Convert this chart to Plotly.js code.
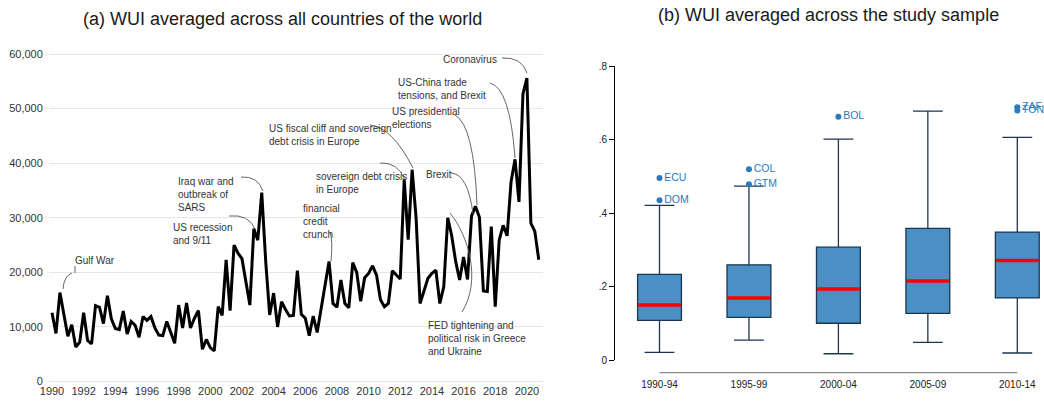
<!DOCTYPE html>
<html><head><meta charset="utf-8">
<script src="https://cdn.plot.ly/plotly-3.0.1.min.js"></script>
<style>html,body{margin:0;padding:0;background:#fff}#chart{width:1044px;height:401px}</style>
</head><body><div id="chart"></div>
<script>
const W = 1044, H = 401;

// ---- (a) World Uncertainty Index, quarterly 1990Q1 - 2020Q4 ----
const wui1990s = [12600, 8800, 16300, 11900, 8300, 10400, 6300, 7200, 12600, 7500, 6900, 13900,
  13600, 10600, 15700, 11500, 9700, 9500, 12900, 8700, 11000, 10300, 8100, 11900,
  11200, 11900, 9800, 8500, 8400, 11000, 8800, 7000, 14000, 9800, 14400, 9800,
  11600, 13000, 5900, 7700];
const wui2000s = [6200, 5600, 13700, 12100, 22300, 13000, 25000, 23500, 22500, 18000, 14000, 28000,
  25900, 34600, 22000, 12200, 16200, 10000, 14600, 13200, 12000, 12100, 20300, 12300,
  11600, 8400, 12000, 9000, 13500, 18000, 22000, 14300, 13600, 18600, 14300, 13500,
  21800, 20000, 14700, 19000];
const wui2010s = [19800, 21200, 19500, 15000, 13700, 14300, 20300, 19500, 18800, 37000, 26000, 38800,
  30000, 14300, 16800, 18900, 19800, 20400, 14300, 17400, 30000, 26700, 22000, 18600,
  22800, 18700, 30300, 32100, 30100, 16600, 16500, 28400, 13700, 25900, 28600, 26700,
  36600, 40700, 32900, 52700];
const wui2020s = [55600, 29000, 27500, 22300];
const startYear = 1990;
const yearTicks = [1990, 1992, 1994, 1996, 1998, 2000, 2002, 2004, 2006, 2008, 2010, 2012, 2014, 2016, 2018, 2020];
const wuiTicks = [0, 10000, 20000, 30000, 40000, 50000, 60000];
const eventLabels = [
  'Gulf War',
  'US recession<br>and 9/11',
  'Iraq war and<br>outbreak of<br>SARS',
  'financial<br>credit<br>crunch',
  'US fiscal cliff and sovereign<br>debt crisis in Europe',
  'sovereign debt crisis<br>in Europe',
  'US presidential<br>elections',
  'US-China trade<br>tensions, and Brexit',
  'Coronavirus',
  'Brexit',
  'FED tightening and<br>political risk in Greece<br>and Ukraine'
];

// ---- (b) WUI across the study sample, 5-year periods ----
const periods = ['1990-94', '1995-99', '2000-04', '2005-09', '2010-14'];
const boxLow = [0.021, 0.054, 0.017, 0.048, 0.019];
const boxQ1 = [0.108, 0.116, 0.100, 0.127, 0.169];
const boxMedian = [0.150, 0.169, 0.193, 0.215, 0.271];
const boxQ3 = [0.233, 0.259, 0.307, 0.358, 0.348];
const boxHigh = [0.421, 0.473, 0.601, 0.677, 0.606];
const outPeriod = ['1990-94', '1990-94', '1995-99', '1995-99', '2000-04', '2010-14', '2010-14'];
const outValue = [0.495, 0.435, 0.519, 0.478, 0.662, 0.688, 0.679];
const outCode = ['ECU', 'DOM', 'COL', 'GTM', 'BOL', 'ZAF', 'TON'];
const sampleTicks = [0, 0.2, 0.4, 0.6, 0.8];
const sampleTickText = ['0', '.2', '.4', '.6', '.8'];

// ---- helpers (layout only) ----
const wui = [].concat(wui1990s, wui2000s, wui2010s, wui2020s);
const quarterX = wui.map((_, i) => startYear + i / 4);
const fx = p => p / W;           // pixel -> paper x
const fy = p => 1 - p / H;       // pixel -> paper y
const P = (x, y) => fx(x).toFixed(5) + ',' + fy(y).toFixed(5);

const FONT = 'Liberation Sans, Arial, sans-serif';

const traces = [
  {
    x: quarterX, y: wui, type: 'scatter', mode: 'lines',
    line: {color: '#000', width: 3}, xaxis: 'x', yaxis: 'y', hoverinfo: 'skip'
  },
  {
    type: 'box', x: periods, q1: boxQ1, median: boxMedian, q3: boxQ3,
    lowerfence: boxLow, upperfence: boxHigh,
    xaxis: 'x2', yaxis: 'y2', width: 0.49, whiskerwidth: 0.68,
    fillcolor: '#4a90c4', line: {color: '#1d3550', width: 1.3},
    boxpoints: false, hoverinfo: 'skip'
  },
  {
    type: 'scatter', mode: 'markers', x: periods, y: boxMedian, xaxis: 'x2', yaxis: 'y2',
    marker: {symbol: 'line-ew', size: 30.5, line: {color: '#ff0000', width: 3.5}}, hoverinfo: 'skip'
  },
  {
    type: 'scatter', mode: 'markers+text', x: outPeriod, y: outValue, text: outCode,
    textposition: 'middle right', cliponaxis: false, xaxis: 'x2', yaxis: 'y2',
    marker: {color: '#2b7bba', size: 6},
    textfont: {family: FONT, size: 10.5, color: '#2b7bba'}, hoverinfo: 'skip'
  }
];

// connector curves (pixel space)
const connectors = [
  'M ' + P(75, 266) + ' L ' + P(75, 273) + ' M ' + P(72, 273) + ' Q ' + P(64, 276) + ' ' + P(63, 289),
  'M ' + P(229, 216) + ' Q ' + P(249, 214) + ' ' + P(255, 229),
  'M ' + P(241, 177) + ' Q ' + P(258, 176) + ' ' + P(263, 191),
  'M ' + P(330, 232) + ' Q ' + P(333, 240) + ' ' + P(331, 261),
  'M ' + P(370, 125) + ' Q ' + P(392, 127) + ' ' + P(413, 168),
  'M ' + P(380, 163) + ' Q ' + P(398, 162) + ' ' + P(405, 180),
  'M ' + P(455, 115) + ' Q ' + P(474, 125) + ' ' + P(477, 205),
  'M ' + P(490, 83) + ' Q ' + P(510, 88) + ' ' + P(515, 158),
  'M ' + P(502, 58) + ' Q ' + P(522, 57) + ' ' + P(527, 73),
  'M ' + P(451, 173) + ' Q ' + P(468, 174) + ' ' + P(473, 214),
  'M ' + P(450, 213) + ' C ' + P(468, 235) + ' ' + P(482, 280) + ' ' + P(462, 312)
];
const labelPos = [[74, 254], [172, 221], [177, 175], [302, 202], [268, 122], [315, 170],
  [391, 105], [397, 76], [442, 53], [425, 168], [427, 319]];

const shapes = connectors.map(p => ({
  type: 'path', path: p, xref: 'paper', yref: 'paper',
  line: {color: '#555', width: 0.9}
}));
shapes.push({
  type: 'line', xref: 'x2', yref: 'paper', x0: 0, x1: periods.length - 1,
  y0: fy(372.7), y1: fy(372.7), line: {color: '#888', width: 1.3}
});

const annotations = eventLabels.map((t, i) => ({
  text: t, xref: 'paper', yref: 'paper', x: fx(labelPos[i][0]), y: fy(labelPos[i][1]),
  xanchor: 'left', yanchor: 'top', align: 'left', showarrow: false,
  font: {family: FONT, size: 10, color: '#333'}, borderpad: 0
}));
annotations.push({
  text: '(a) WUI averaged across all countries of the world', xref: 'paper', yref: 'paper',
  x: fx(282), y: fy(19), xanchor: 'center', yanchor: 'middle', showarrow: false,
  font: {family: FONT, size: 18, color: '#1a1a1a'}
});
annotations.push({
  text: '(b) WUI averaged across the study sample', xref: 'paper', yref: 'paper',
  x: fx(828), y: fy(15), xanchor: 'center', yanchor: 'middle', showarrow: false,
  font: {family: FONT, size: 18, color: '#1a1a1a'}
});

const layout = {
  width: W, height: H, margin: {l: 0, r: 0, t: 0, b: 0},
  paper_bgcolor: '#fff', plot_bgcolor: 'rgba(0,0,0,0)', showlegend: false,
  font: {family: FONT, color: '#333'},
  xaxis: {
    domain: [fx(49), fx(543)], range: [1990 + (49 - 52) / 15.83, 1990 + (543 - 52) / 15.83],
    tickvals: yearTicks, ticktext: yearTicks.map(String), showgrid: false, zeroline: false,
    showline: false, ticks: '',
    tickfont: {family: FONT, size: 11, color: '#333'}, anchor: 'free', position: fy(383)
  },
  yaxis: {
    domain: [fy(385), fy(50)], range: [(381.5 - 385) / 5.458 * 1000, (381.5 - 50) / 5.458 * 1000],
    tickvals: wuiTicks, ticktext: wuiTicks.map(v => v.toLocaleString('en-US')),
    showgrid: true, gridcolor: '#e6e6e6', gridwidth: 1, zeroline: false, showline: false,
    ticks: 'outside', ticklen: 3, tickcolor: 'rgba(0,0,0,0)',
    tickfont: {family: FONT, size: 11, color: '#333'}, anchor: 'x'
  },
  xaxis2: {
    domain: [fx(615), 1], type: 'category', categoryorder: 'array', categoryarray: periods,
    range: [(615 - 659.5) / 89.45, (1044 - 659.5) / 89.45],
    showgrid: false, zeroline: false, showline: false,
    ticks: 'outside', ticklen: 15, tickcolor: 'rgba(0,0,0,0)',
    tickfont: {family: FONT, size: 10, color: '#222'}, anchor: 'y2'
  },
  yaxis2: {
    domain: [fy(360), fy(66)], range: [0, 0.8], tickvals: sampleTicks, ticktext: sampleTickText,
    showgrid: false, zeroline: false, showline: true, linecolor: '#000', linewidth: 1,
    ticks: 'outside', ticklen: 5, tickcolor: '#000', tickwidth: 1,
    tickfont: {family: FONT, size: 10, color: '#222'}, anchor: 'x2'
  },
  shapes: shapes, annotations: annotations
};

Plotly.newPlot('chart', traces, layout, {staticPlot: true, displayModeBar: false});
</script>
</body></html>
